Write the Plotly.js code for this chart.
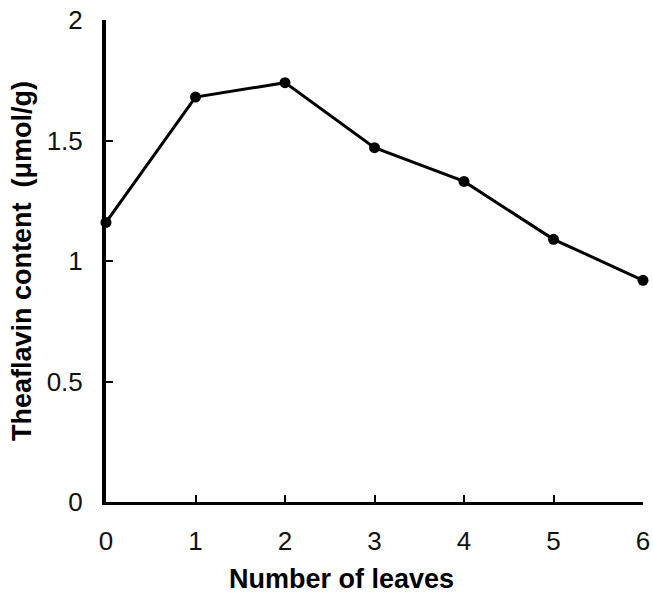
<!DOCTYPE html>
<html>
<head>
<meta charset="utf-8">
<script src="https://cdn.plot.ly/plotly-3.0.1.min.js"></script>
<style>html,body{margin:0;padding:0;background:#fff;}#chart{width:653px;height:597px;}</style>
</head>
<body>
<div id="chart"></div>
<script>
const leaves = [0, 1, 2, 3, 4, 5, 6];
const theaflavin = [1.16, 1.68, 1.74, 1.47, 1.33, 1.09, 0.92];
const xTickVals = [0, 1, 2, 3, 4, 5, 6];
const xTickText = ['0', '1', '2', '3', '4', '5', '6'];
const yTickVals = [0, 0.5, 1, 1.5, 2];
const yTickText = ['0', '0.5', '1', '1.5', '2'];
const xTitle = 'Number of leaves';
const yTitle = 'Theaflavin content  (μmol/g)';

const trace = {
  x: leaves,
  y: theaflavin,
  type: 'scatter',
  mode: 'lines+markers',
  line: {color: '#000', width: 3},
  marker: {color: '#000', size: 11, symbol: 'circle'},
  cliponaxis: false,
  showlegend: false
};

const layout = {
  width: 653,
  height: 597,
  margin: {l: 106, r: 10, t: 20, b: 95},
  paper_bgcolor: '#fff',
  plot_bgcolor: '#fff',
  font: {family: 'Liberation Sans, Arial, sans-serif', color: '#000'},
  xaxis: {
    range: [0, 6],
    tickvals: xTickVals,
    ticktext: xTickText,
    ticks: 'inside',
    ticklen: 7,
    tickwidth: 2,
    tickcolor: '#000',
    showline: true,
    linecolor: '#000',
    linewidth: 3,
    showgrid: false,
    zeroline: false,
    tickfont: {size: 26, color: '#111'},
    ticklabelstandoff: 14
  },
  yaxis: {
    range: [0, 2],
    tickvals: yTickVals,
    ticktext: yTickText,
    ticks: 'inside',
    ticklen: 7,
    tickwidth: 2,
    tickcolor: '#000',
    showline: true,
    linecolor: '#000',
    linewidth: 4,
    showgrid: false,
    zeroline: false,
    tickfont: {size: 26, color: '#111'},
    ticklabelstandoff: 14,
    title: {text: yTitle, font: {size: 27, weight: 'bold', color: '#000'}, standoff: 8}
  },
  annotations: [{
    text: xTitle,
    xref: 'paper', yref: 'paper',
    x: (341 - 106) / 537, y: -0.16,
    xanchor: 'center', yanchor: 'middle',
    showarrow: false,
    font: {size: 27, weight: 'bold', color: '#000'}
  }]
};

Plotly.newPlot('chart', [trace], layout, {displayModeBar: false, staticPlot: true});
</script>
</body>
</html>
